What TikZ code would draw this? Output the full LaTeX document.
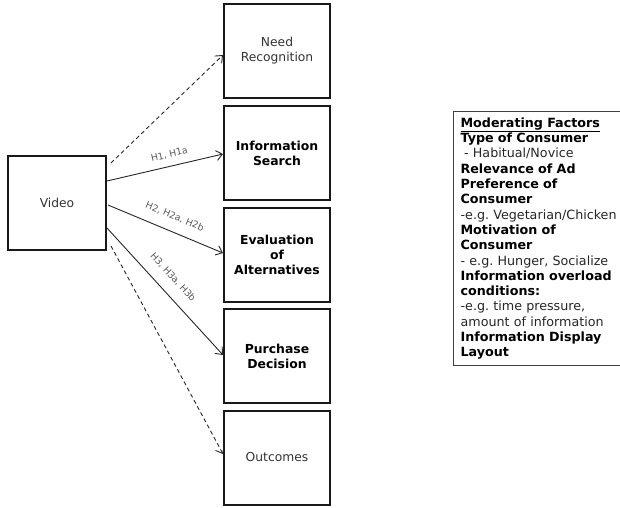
\documentclass[tikz,border=0pt]{standalone}
\usepackage{fontspec}
\setmainfont{DejaVu Sans}
\usetikzlibrary{arrows.meta,calc}
\frenchspacing
\begin{document}
\begin{tikzpicture}[x=1pt,y=-1pt,
  stage/.style={draw=black!90, line width=2pt, minimum width=106pt, minimum height=94pt,
    inner sep=2pt, align=center, text=black!80, font=\fontsize{12.3}{15}\selectfont},
  keystage/.style={stage, text=black, font=\fontsize{12.4}{15}\selectfont\bfseries},
  link/.style={line width=0.9pt, draw=black!85, -{Straight Barb[length=6pt,width=10pt]}},
  weaklink/.style={link, dash pattern=on 4pt off 3pt},
  hyp/.style={sloped, inner sep=0pt, text=black!65, font=\fontsize{9.3}{10}\selectfont},
  factorbox/.style={draw=black!75, line width=1.2pt, anchor=north west, inner xsep=7pt,
    inner ysep=0pt, text width=180pt, minimum height=254pt, align=left, text=black!85,
    font=\fontsize{12.7}{15.3}\selectfont}
]
\useasboundingbox (0,0) rectangle (620,507);
\clip (0,0) rectangle (620,507);

% source and decision stages
\node[stage, minimum width=98pt] (video) at (57,203) {Video};
\node[stage]    (need)     at (277,51)    {Need\\Recognition};
\node[keystage] (search)   at (277,153)   {Information\\Search};
\node[keystage] (eval)     at (277,254.5) {Evaluation\\of\\Alternatives};
\node[keystage] (purchase) at (277,356)   {Purchase\\Decision};
\node[stage]    (outcome)  at (277,457.5) {Outcomes};

% hypothesised paths
\draw[weaklink] ($(video.east)+(4,-40)$) -- ($(need.west)+(0,4)$);
\draw[link] ($(video.east)+(0,-22)$) --
  node[hyp, pos=.56, above=7pt] {H1, H1a} ($(search.west)+(0,1)$);
\draw[link] ($(video.east)+(1,2)$) --
  node[hyp, pos=.53, above=10.5pt] {H2, H2a, H2b} ($(eval.west)+(0,-1.5)$);
\draw[link] ($(video.east)+(0,25)$) --
  node[hyp, pos=.47, above=11pt] {H3, H3a, H3b} ($(purchase.west)+(0,-1)$);
\draw[weaklink] ($(video.east)+(4,43)$) -- ($(outcome.west)+(0,-3.5)$);

% moderating factors
\node[factorbox] (factors) at (453,111) {%
\textbf{\color{black}\underline{Moderating Factors}}\\
\textbf{\color{black}Type of Consumer}\\
\hspace*{3.5pt}- Habitual/Novice\\
\textbf{\color{black}Relevance of Ad}\\
\textbf{\color{black}Preference of}\\
\textbf{\color{black}Consumer}\\
-e.g. Vegetarian/Chicken\\
\textbf{\color{black}Motivation of}\\
\textbf{\color{black}Consumer}\\
- e.g. Hunger, Socialize\\
\textbf{\color{black}Information overload}\\
\textbf{\color{black}conditions:}\\
-e.g. time pressure,\\
amount of information\\
\textbf{\color{black}Information Display}\\
\textbf{\color{black}Layout}};
\end{tikzpicture}
\end{document}
